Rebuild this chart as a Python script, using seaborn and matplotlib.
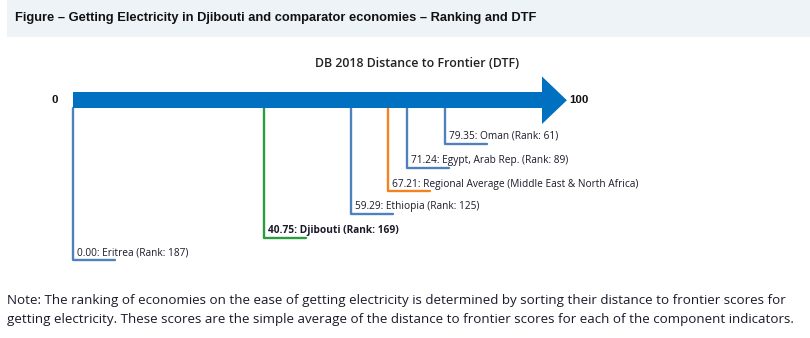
import matplotlib
matplotlib.use("Agg")
import matplotlib.pyplot as plt
import seaborn as sns
import pandas as pd
from matplotlib.patches import Rectangle, Polygon

# ---------------- data ----------------
economies = ["Eritrea", "Djibouti", "Ethiopia",
             "Regional Average (Middle East & North Africa)",
             "Egypt, Arab Rep.", "Oman"]
dtf_scores = [0.00, 40.75, 59.29, 67.21, 71.24, 79.35]
ranks = [187, 169, 125, None, 89, 61]
kinds = ["comparator", "focus", "comparator", "regional", "comparator", "comparator"]
axis_min, axis_max = 0, 100

title = "Figure \u2013 Getting Electricity in Djibouti and comparator economies \u2013 Ranking and DTF"
subtitle = "DB 2018 Distance to Frontier (DTF)"
note = ("Note: The ranking of economies on the ease of getting electricity is determined by sorting their distance to frontier scores for\n"
        "getting electricity. These scores are the simple average of the distance to frontier scores for each of the component indicators.")

# ---------------- style ----------------
sns.set_theme(style="white")
plt.rcParams['font.family'] = ['Open Sans', 'DejaVu Sans']

W, H = 810, 338
fig = plt.figure(figsize=(W / 100, H / 100), dpi=100)
ax = fig.add_axes([0, 0, 1, 1])

# layout: x in DTF units, y in pixel rows from top
x0_px, px_per_unit = 73, 4.69
ax.set_xlim(-x0_px / px_per_unit, (W - x0_px) / px_per_unit)
ax.set_ylim(H, 0)
ax.axis("off")


def px(xp):
    """pixel column -> data x"""
    return (xp - x0_px) / px_per_unit


colors = {"comparator": "#4f81bd", "focus": "#2a9d3f", "regional": "#f58220"}
bar_color = "#0070c0"
text_color = "#1a1a2a"

# title band
ax.add_patch(Rectangle((px(7), 0), (W - 7) / px_per_unit, 37,
                       facecolor="#eef3f8", edgecolor="none", zorder=0))
ax.text(px(15), 18.5, title, fontsize=9.3, fontweight="bold",
        family=['Liberation Sans', 'DejaVu Sans'], va="center", ha="left", color="#111111")

# subtitle
ax.text(px(417), 63.5, subtitle, fontsize=8.9, fontweight="semibold",
        ha="center", va="center", color="#222222")

# arrow
shaft_top, shaft_bot = 92, 108
head_top, head_bot = 76.5, 124
head_len = 5.3
ax.add_patch(Polygon([(axis_min, shaft_top), (axis_max, shaft_top), (axis_max, head_top),
                      (axis_max + head_len, (head_top + head_bot) / 2), (axis_max, head_bot),
                      (axis_max, shaft_bot), (axis_min, shaft_bot)],
                     closed=True, facecolor=bar_color, edgecolor="none", zorder=3))
ax.text(axis_min - 18 / px_per_unit, 100, f"{axis_min}", fontsize=8.2, fontweight="bold",
        ha="center", va="center", color="#111111", family=['Liberation Sans', 'DejaVu Sans'])
ax.text(axis_max + head_len + 2.5 / px_per_unit, 100, f"{axis_max}", fontsize=8.2, fontweight="bold",
        ha="left", va="center", color="#111111", family=['Liberation Sans', 'DejaVu Sans'])

# connector levels (pixel rows), ordered like economies
levels = [260, 237.5, 214, 191, 168, 143.5]
tail = 9.0  # horizontal foot length in DTF units

rows = []
for i, (name, v, lvl) in enumerate(zip(economies, dtf_scores, levels)):
    rows += [dict(unit=i, x=v, y=shaft_bot, kind=kinds[i]),
             dict(unit=i, x=v, y=lvl, kind=kinds[i]),
             dict(unit=i, x=v + tail, y=lvl, kind=kinds[i])]
df = pd.DataFrame(rows)
sns.lineplot(data=df, x="x", y="y", units="unit", hue="kind", palette=colors,
             estimator=None, sort=False, lw=1.7, legend=False, ax=ax, zorder=2)

for i, (name, v, lvl) in enumerate(zip(economies, dtf_scores, levels)):
    if ranks[i] is None:
        label = f"{v:.2f}: {name}"
    else:
        label = f"{v:.2f}: {name} (Rank: {ranks[i]})"
    bold = kinds[i] == "focus"
    ax.text(v + 4 / px_per_unit, lvl - 7.0, label, fontsize=7.3,
            fontweight="bold" if bold else "normal", ha="left", va="center", color=text_color)

# note
ax.text(px(7), 310, note, fontsize=9.6, ha="left", va="center",
        color=text_color, linespacing=1.55)

fig.savefig("out.png", dpi=100, facecolor="white")
